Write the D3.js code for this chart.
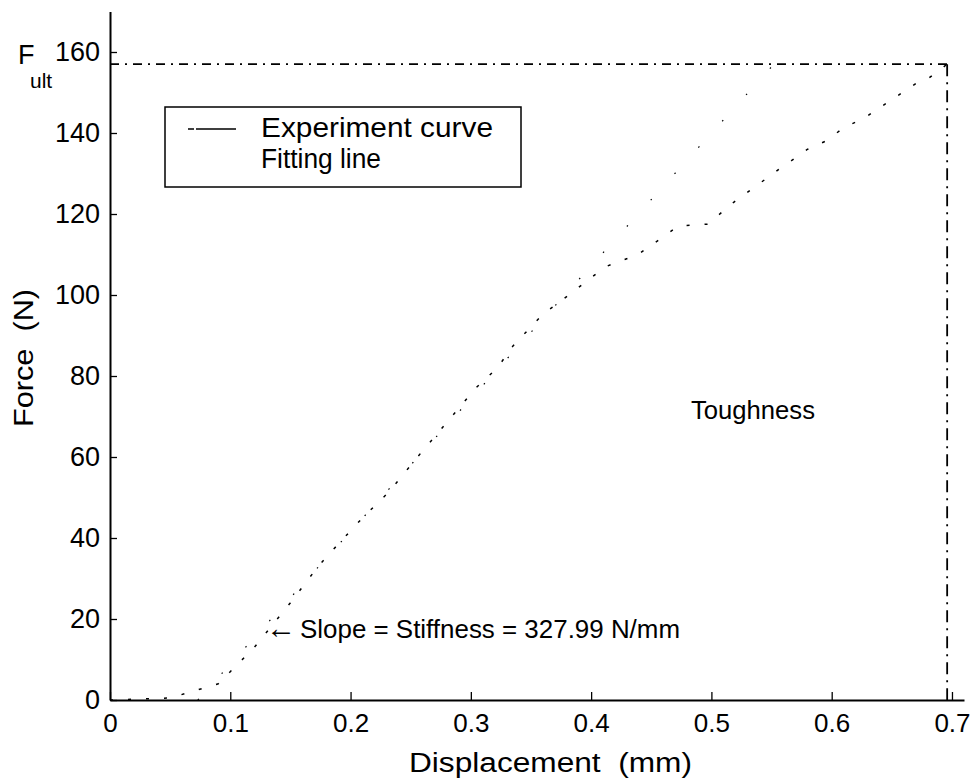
<!DOCTYPE html>
<html>
<head>
<meta charset="utf-8">
<script src="https://cdn.jsdelivr.net/npm/d3@7"></script>
<style>
  body { margin: 0; background: #fff; }
  text { font-family: "Liberation Sans", Arial, Helvetica, sans-serif; fill: #000; }
</style>
</head>
<body>
<svg id="chart" width="976" height="784"></svg>
<script>
// ---------- data ----------
const xTicks = [0, 0.1, 0.2, 0.3, 0.4, 0.5, 0.6, 0.7];
const xTickLabels = ["0", "0.1", "0.2", "0.3", "0.4", "0.5", "0.6", "0.7"];
const yTicks = [0, 20, 40, 60, 80, 100, 120, 140, 160];
const yTickLabels = ["0", "20", "40", "60", "80", "100", "120", "140", "160"];

// experiment curve (displacement mm, force N)
const expDisp  = [0, 0.05, 0.09, 0.12, 0.15, 0.173, 0.183, 0.21, 0.232, 0.259, 0.283, 0.304, 0.322, 0.335, 0.36, 0.377, 0.412, 0.439, 0.463, 0.472, 0.497, 0.519, 0.556, 0.58, 0.595, 0.611, 0.626, 0.672, 0.681, 0.696];
const expForce = [0, 0.5, 4, 13, 24, 33, 36.3, 45, 51.4, 61.2, 69.6, 77, 82, 87.4, 95.3, 99, 107, 110, 115, 117, 117.5, 123, 131, 136, 138, 141.5, 143.5, 152.6, 153.6, 157];

// fitting line (slope = 327.99 N/mm)
const fitDisp  = [0.073, 0.552];
const fitForce = [0, 157];

// ultimate force / displacement
const fUlt = 157;
const dUlt = 0.696;

// ---------- scales ----------
const svg = d3.select("#chart");
const x = d3.scaleLinear().domain([0, 0.71]).range([110, 964]);
const y = d3.scaleLinear().domain([0, 170]).range([700, 11.5]);

const line = d3.line().x(d => x(d[0])).y(d => y(d[1]));

// ---------- marks ----------
// fitting line (very faint in the scan)
svg.append("path")
  .datum(fitDisp.map((d, i) => [d, fitForce[i]]))
  .attr("d", line)
  .attr("fill", "none")
  .attr("stroke", "#000")
  .attr("stroke-width", 1.2)
  .attr("stroke-dasharray", "1.5,34");

// experiment curve
svg.append("path")
  .datum(expDisp.map((d, i) => [d, expForce[i]]))
  .attr("d", line)
  .attr("fill", "none")
  .attr("stroke", "#000")
  .attr("stroke-width", 1.5)
  .attr("stroke-dasharray", "3,15");

// F_ult horizontal dash-dot
svg.append("path")
  .datum([[0, fUlt], [dUlt, fUlt]])
  .attr("d", line)
  .attr("fill", "none")
  .attr("stroke", "#000")
  .attr("stroke-width", 1.6)
  .attr("stroke-dasharray", "9,6,2,6");

// vertical dash-dot at ultimate displacement
svg.append("path")
  .datum([[dUlt, fUlt], [dUlt, 0]])
  .attr("d", line)
  .attr("fill", "none")
  .attr("stroke", "#000")
  .attr("stroke-width", 1.8)
  .attr("stroke-dasharray", "12,6,2,6");

// ---------- axes ----------
const gx = svg.append("g")
  .attr("transform", `translate(0,${y(0)})`)
  .call(d3.axisBottom(x).tickValues(xTicks).tickFormat((d, i) => xTickLabels[i])
        .tickSizeInner(-8).tickSizeOuter(0).tickPadding(14));
gx.attr("font-family", null).attr("font-size", null);
gx.select(".domain").attr("stroke-width", 2);
gx.selectAll(".tick line").attr("stroke-width", 1.3);
gx.selectAll(".tick text").style("font-size", "26px").attr("dy", "0.71em");

const gy = svg.append("g")
  .attr("transform", `translate(${x(0)},0)`)
  .call(d3.axisLeft(y).tickValues(yTicks).tickFormat((d, i) => yTickLabels[i])
        .tickSizeInner(-7).tickSizeOuter(0).tickPadding(10));
gy.attr("font-family", null).attr("font-size", null);
gy.select(".domain").attr("stroke-width", 2);
gy.selectAll(".tick line").attr("stroke-width", 1.3);
gy.selectAll(".tick text").style("font-size", "27px");

// axis labels
svg.append("text")
  .attr("x", 409).attr("y", 772)
  .attr("textLength", 283).attr("lengthAdjust", "spacingAndGlyphs")
  .style("font-size", "27px").style("white-space", "pre")
  .text("Displacement  (mm)");

svg.append("text")
  .attr("transform", "translate(33,427) rotate(-90)")
  .attr("textLength", 138).attr("lengthAdjust", "spacingAndGlyphs")
  .style("font-size", "28px").style("white-space", "pre")
  .text("Force  (N)");

// F_ult label
const fl = svg.append("text").attr("x", 18).attr("y", y(fUlt)).style("font-size", "27px");
fl.append("tspan").text("F");
fl.append("tspan").attr("x", 30).attr("y", y(fUlt) + 24).style("font-size", "21px").text("ult");

// ---------- legend ----------
const lg = svg.append("g");
lg.append("rect").attr("x", 165).attr("y", 107).attr("width", 356).attr("height", 80)
  .attr("fill", "#fff").attr("stroke", "#000").attr("stroke-width", 1.5);
lg.append("line").attr("x1", 188).attr("x2", 236).attr("y1", 129).attr("y2", 129)
  .attr("stroke", "#000").attr("stroke-width", 1.4).attr("stroke-dasharray", "6,2,34,0");
lg.append("text").attr("x", 261).attr("y", 137)
  .attr("textLength", 232).attr("lengthAdjust", "spacingAndGlyphs")
  .style("font-size", "28px").text("Experiment curve");
lg.append("text").attr("x", 261).attr("y", 168)
  .attr("textLength", 120).attr("lengthAdjust", "spacingAndGlyphs")
  .style("font-size", "27px").text("Fitting line");

// ---------- annotations ----------
svg.append("text").attr("x", 691).attr("y", 419)
  .attr("textLength", 124).attr("lengthAdjust", "spacingAndGlyphs")
  .style("font-size", "25px").text("Toughness");

const st = svg.append("text").attr("x", 266).attr("y", 638).style("font-size", "25px");
st.append("tspan").style("font-size", "30px").text("\u2190");
st.append("tspan").attr("x", 300).attr("textLength", 380).attr("lengthAdjust", "spacingAndGlyphs")
  .text("Slope = Stiffness = 327.99 N/mm");
</script>
</body>
</html>
